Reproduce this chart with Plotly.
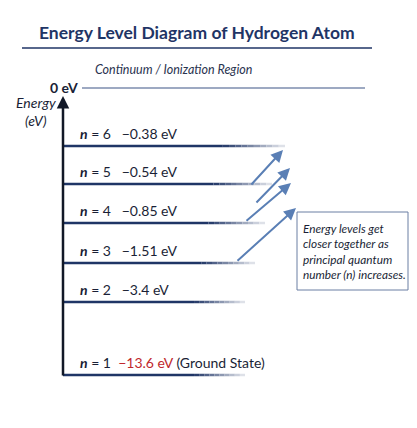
import plotly.graph_objects as go

levels_n = [1, 2, 3, 4, 5, 6]
energies = ["−13.6", "−3.4", "−1.51", "−0.85", "−0.54", "−0.38"]
# schematic (not to scale) vertical placement of each level in the diagram
level_pos = [375, 302, 263, 223, 184, 146]
level_len = [245, 245, 255, 265, 272, 285]

navy = "#1f3566"
fig = go.Figure()
F = "Lato"

def mix(t):
    c0 = (31, 53, 102); c1 = (255, 255, 255)
    return "rgb(%d,%d,%d)" % tuple(int(a + (b - a) * t) for a, b in zip(c0, c1))

for n, e, y, xe in zip(levels_n, energies, level_pos, level_len):
    x0 = 63
    solid = x0 + (xe - x0) * 0.72
    fig.add_trace(go.Scatter(x=[x0, solid], y=[y, y], mode="lines",
                             line=dict(color=navy, width=2.5), hoverinfo="skip", showlegend=False))
    steps = 10
    for i in range(steps):
        a = solid + (xe - solid) * i / steps
        b = solid + (xe - solid) * (i + 1) / steps
        fig.add_shape(type="line", x0=a, x1=b, y0=y, y1=y,
                      line=dict(color=mix((i + 0.5) / steps * 0.9), width=2.5))
    if n == 1:
        txt = f"<b><i>n</i></b> = {n}  <span style='color:#c0282d'>{e} eV</span> (Ground State)"
    else:
        txt = f"<b><i>n</i></b> = {n}   {e} eV"
    fig.add_annotation(x=78, y=y - 13, text=txt, showarrow=False, xanchor="left",
                       font=dict(family=F, size=14, color="#1a1f36"))

# 0 eV line
fig.add_trace(go.Scatter(x=[82, 365], y=[88, 88], mode="lines",
                         line=dict(color="#3d5585", width=1.2), hoverinfo="skip", showlegend=False))
fig.add_annotation(x=80, y=87, text="<b>0 eV</b>", showarrow=False, xanchor="right",
                   font=dict(family=F, size=14, color="#1a1f36"))
fig.add_annotation(x=173, y=69, text="<i>Continuum / Ionization Region</i>", showarrow=False,
                   font=dict(family=F, size=12.5, color="#2a3350"))

# energy axis
fig.add_annotation(x=63, y=96, ax=63, ay=377, xref="x", yref="y", axref="x", ayref="y",
                   text="", showarrow=True, arrowhead=2, arrowsize=1, arrowwidth=2.5, arrowcolor="#111827")
fig.add_annotation(x=36, y=111, text="<i>Energy<br>(eV)</i>", showarrow=False,
                   font=dict(family=F, size=14, color="#1a1f36"))

# trend arrows
arrows = [((236, 262), (296, 208)), ((245, 222), (291, 183)), ((255, 204), (290, 168)), ((250, 186), (283, 150))]
for (t, h) in arrows:
    fig.add_annotation(x=h[0], y=h[1], ax=t[0], ay=t[1], xref="x", yref="y", axref="x", ayref="y",
                       text="", showarrow=True, arrowhead=2, arrowsize=1.2, arrowwidth=2,
                       arrowcolor="#5a7fb5")

fig.add_annotation(x=301, y=251, xanchor="left", showarrow=False, align="left",
                   text="<i>Energy levels get<br>closer together as<br>principal quantum<br>number (n) increases.</i>",
                   font=dict(family=F, size=11.8, color="#1a1f36"))
fig.add_shape(type="rect", x0=297, x1=408, y0=212, y1=290, line=dict(color="#6b7fa3", width=1))

# title
fig.add_annotation(x=197, y=32, text="<b>Energy Level Diagram of Hydrogen Atom</b>", showarrow=False,
                   font=dict(family=F, size=17.5, color=navy))
fig.add_shape(type="line", x0=22, x1=372, y0=48, y1=48, line=dict(color=navy, width=1.5))

fig.update_layout(width=409, height=420, margin=dict(l=0, r=0, t=0, b=0),
                  paper_bgcolor="white", plot_bgcolor="white",
                  xaxis=dict(range=[8, 417], visible=False, fixedrange=True),
                  yaxis=dict(range=[428, 8], visible=False, fixedrange=True))
fig.write_html("out.html")
